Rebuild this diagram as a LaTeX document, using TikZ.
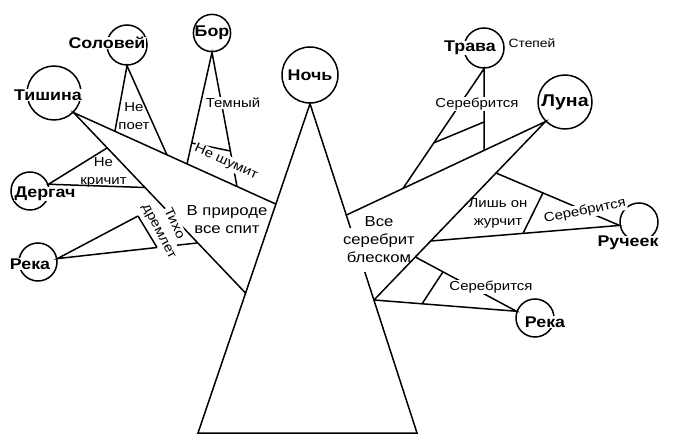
\documentclass[tikz,border=0pt]{standalone}
\usepackage{fontspec}
\setmainfont{Liberation Sans}[FakeStretch=1.15]

\begin{document}
\begin{tikzpicture}[x=1pt, y=-1pt, line width=1.5pt,
    ring/.style={circle, draw, inner sep=0pt},
    word/.style={font=\fontsize{15.5}{18}\selectfont\bfseries, fill=white, inner sep=0.5pt},
    remark/.style={font=\fontsize{13}{18}\selectfont, align=center, inner sep=0.5pt},
    cutnote/.style={remark, fill=white, inner sep=1pt}]
  \useasboundingbox (0,0) rectangle (677,443);

  \node[ring, minimum size=56pt, font=\fontsize{15.5}{18}\selectfont\bfseries] (noch) at (310,75) {Ночь};
  \coordinate (bl) at (198,433);
  \coordinate (br) at (417,433);
  \coordinate (rs0) at (350.5,228);
  \coordinate (rs1) at (364.8,272);
  \draw (rs0) -- (noch.south) -- (bl) -- (br) -- (rs1);

  \node[ring, minimum size=54pt] (tishina) at (54,93) {};
  \coordinate (ta) at (275.7,204);
  \coordinate (tb) at (245.5,293);
  \draw (ta) -- (tishina.-45) -- (tb);

  \node[ring, minimum size=40pt] (solovej) at (127,45) {};
  \coordinate (s1) at (115,131);
  \coordinate (s2) at (167,155);
  \draw (s1) -- (solovej.south) -- (s2);

  \node[ring, minimum size=36pt, font=\fontsize{15.5}{18}\selectfont\bfseries] (bor) at (212,33) {Бор};
  \coordinate (b1) at (187,164);
  \coordinate (b2) at (237,186.5);
  \coordinate (b3) at (191.6,143);
  \coordinate (b4) at (230.4,151);
  \draw (b1) -- (bor.south) -- (b2);
  \draw (b3) -- (b4);

  \node[ring, minimum size=38pt] (dergach) at (30,191) {};
  \coordinate (d1) at (107,148);
  \coordinate (d2) at (145,187.5);
  \draw (d1) -- (dergach.20) -- (d2);

  \node[ring, minimum size=38pt] (rekaL) at (38,262) {};
  \coordinate (r1) at (138,216);
  \coordinate (rk) at (157,247.5);
  \coordinate (rj) at (177,245.2);
  \coordinate (r2) at (197,243);
  \draw (r1) -- (rekaL.10) -- (rk);
  \draw (rj) -- (r2);
  \draw (r1) -- (rk);

  \node[ring, minimum size=54pt, font=\fontsize{17}{18}\selectfont\bfseries] (luna) at (565,102) {Луна};
  \coordinate (la) at (346.5,215);
  \coordinate (lb) at (374,300);
  \draw (la) -- (luna.225) -- (lb);

  \node[ring, minimum size=40pt] (trava) at (484,48) {};
  \coordinate (tr1) at (403,188.4);
  \coordinate (tr2) at (484,150.3);
  \coordinate (tr3) at (433.5,143);
  \coordinate (tr4) at (484,122);
  \draw (tr1) -- (trava.south) -- (tr2);
  \draw (tr3) -- (tr4);

  \node[ring, minimum size=38pt] (ruchej) at (639,222) {};
  \coordinate (ru1) at (496,173);
  \coordinate (ru2) at (430.7,241);
  \coordinate (ru3) at (543,192.8);
  \coordinate (ru4) at (523,233.4);
  \draw (ru1) -- (ruchej.190) -- (ru2);
  \draw (ru3) -- (ru4);

  \node[ring, minimum size=38pt] (rekaR) at (535,318) {};
  \coordinate (rr1) at (415.3,257);
  \coordinate (rr3) at (443,271.8);
  \coordinate (rr4) at (422,303.9);
  \draw (rr1) -- (rekaR.160) -- (lb);
  \draw (rr3) -- (rr4);

  \node[word] (tishinaT) at (48,95) {Тишина};
  \node[word] (solovejT) at (107,43) {Соловей};
  \node[word] (dergachT) at (45,194) {Дергач};
  \node[word] (rekaLT) at (30,264) {Река};
  \node[word] (travaT) at (470,48) {Трава};
  \node[word] (ruchejT) at (628,243) {Ручеек};
  \node[word] (rekaRT) at (545,322) {Река};

  \node[remark] (nepoet) at (134,116.5) {Не\\поет};
  \node[cutnote] (temnyj) at (233,103) {Темный};
  \node[cutnote, rotate=-24.5] (neshumit) at (226,162) {Не шумит};
  \node[remark] (nekrichit) at (103.5,172) {Не\\кричит};
  \node[cutnote, rotate=-65] (tiho) at (175,223) {Тихо};
  \node[remark, rotate=-62] (dremlet) at (158,232) {дремлет};
  \node[remark, font=\fontsize{14.5}{18}\selectfont] (priroda) at (227,220) {В природе\\все спит};
  \node[remark, font=\fontsize{14.5}{18}\selectfont] (vse) at (379,240) {Все\\серебрит\\блеском};
  \node[remark, font=\fontsize{12}{14}\selectfont] (stepej) at (532,43) {Степей};
  \node[cutnote] (serTrava) at (477,104) {Серебрится};
  \node[cutnote, rotate=11.5] (serRuch) at (585,211) {Серебрится};
  \node[cutnote] (serReka) at (491,287) {Серебрится};
  \node[remark] (zhurchit) at (498,213) {Лишь он\\журчит};
\end{tikzpicture}
\end{document}
